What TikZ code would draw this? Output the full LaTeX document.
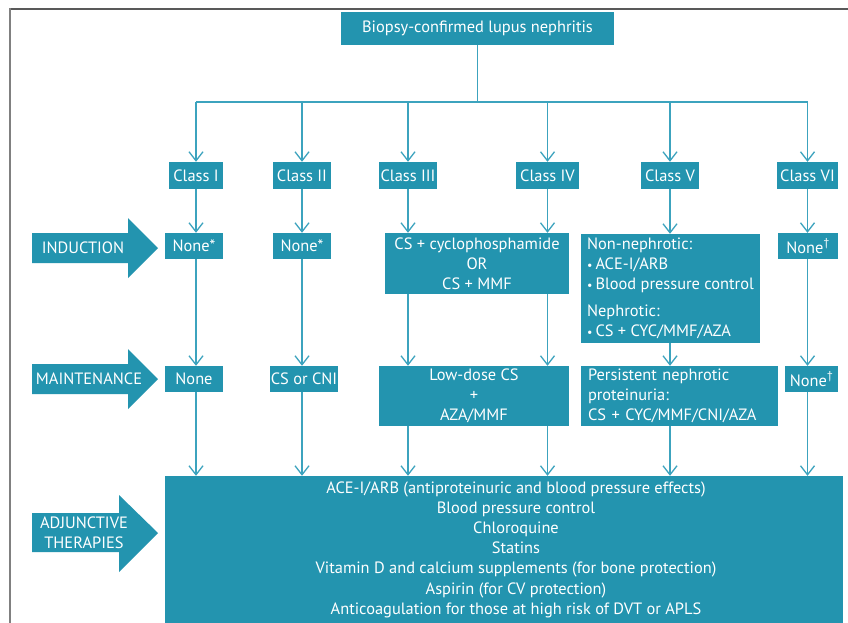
\documentclass[tikz,border=0pt]{standalone}
\usepackage{fontspec}
\setmainfont{PT Sans}
\usetikzlibrary{arrows.meta}
\definecolor{boxfill}{RGB}{35,148,175}
\definecolor{linec}{RGB}{60,163,190}
\newcommand{\mybul}{{\fontsize{12}{12}\selectfont •}\hspace{3pt}}
\begin{document}
\begin{tikzpicture}[x=1pt,y=-1pt,
  box/.style={fill=boxfill, text=white, inner sep=0pt, font=\fontsize{16.4}{20}\selectfont},
  ln/.style={draw=linec, line width=1.3pt},
  arr/.style={draw=linec, line width=1.3pt, -{Straight Barb[length=9pt,width=14pt]}},
  sidearrow/.style={fill=boxfill, draw=none},
  sidetext/.style={text=white, font=\fontsize{16.4}{20}\selectfont, inner sep=0pt, align=center}
]
\useasboundingbox (0,0) rectangle (848,622);
\fill[white] (0,0) rectangle (848,622);
% frame
\draw[draw=gray!70!black, line width=2pt] (10,9) -- (849,9);
\draw[draw=gray, line width=2pt] (10,8) -- (10,623);

% top
\node[box, minimum width=273pt, minimum height=33pt] (top) at (477.5,28.5) {Biopsy-confirmed lupus nephritis};

% classes
\node[box, minimum width=54pt, minimum height=27pt] (c1) at (196,175.5) {Class I};
\node[box, minimum width=58pt, minimum height=27pt] (c2) at (302,175.5) {Class II};
\node[box, minimum width=58pt, minimum height=27pt] (c3) at (408,175.5) {Class III};
\node[box, minimum width=63pt, minimum height=27pt] (c4) at (547.5,175.5) {Class IV};
\node[box, minimum width=58pt, minimum height=27pt] (c5) at (670,175.5) {Class V};
\node[box, minimum width=61pt, minimum height=27pt] (c6) at (807.5,175.5) {Class VI};

% induction
\node[box, minimum width=58pt, minimum height=26pt] (i1) at (194,246) {None*};
\node[box, minimum width=58pt, minimum height=26pt] (i2) at (302,246) {None*};
\node[box, minimum width=184pt, minimum height=61pt, align=center] (i34) at (477,263.5) {CS + cyclophosphamide\\OR\\CS + MMF};
\node[box, minimum width=179pt, minimum height=109pt, align=left] (i5) at (670.5,288.5) {Non-nephrotic:\\\mybul ACE-I/ARB\\\mybul Blood pressure control\\[7pt]Nephrotic:\\\mybul CS + CYC/MMF/AZA};
\node[box, minimum width=60pt, minimum height=26pt] (i6) at (808,246) {None\textsuperscript{†}};

% maintenance
\node[box, minimum width=58pt, minimum height=26pt] (m1) at (194,379) {None};
\node[box, minimum width=68pt, minimum height=26pt] (m2) at (304,379) {CS or CNI};
\node[box, minimum width=190pt, minimum height=60pt, align=center] (m34) at (474,396) {Low-dose CS\\+\\AZA/MMF};
\node[box, minimum width=197pt, minimum height=60pt, text width=183pt, inner xsep=7pt, align=left] (m5) at (679.5,396) {Persistent nephrotic\\proteinuria:\\CS + CYC/MMF/CNI/AZA};
\node[box, minimum width=53pt, minimum height=26pt] (m6) at (811.5,379) {None\textsuperscript{†}};

% adjunctive
\node[box, minimum width=678pt, minimum height=154pt] (adj) at (504,553) {};
\node[box, fill=none, align=center, font=\fontsize{16.4}{20.2}\selectfont] (adjtext) at (516,549.5) {ACE-I/ARB (antiproteinuric and blood pressure effects)\\Blood pressure control\\Chloroquine\\Statins\\Vitamin D and calcium supplements (for bone protection)\\Aspirin (for CV protection)\\Anticoagulation for those at high risk of DVT or APLS};

% side arrows
\fill[sidearrow] (32,233) -- (128,233) -- (128,218) -- (158,248) -- (128,278) -- (128,263) -- (32,263) -- cycle;
\node[sidetext] (lind) at (83,248) {INDUCTION};
\fill[sidearrow] (32,364) -- (128,364) -- (128,349) -- (158,379) -- (128,409) -- (128,394) -- (32,394) -- cycle;
\node[sidetext] (lmain) at (89,379) {MAINTENANCE};
\fill[sidearrow] (32,513) -- (119,513) -- (119,495) -- (158,533) -- (119,572) -- (119,552) -- (32,552) -- cycle;
\node[sidetext] (ladj) at (84,533) {ADJUNCTIVE\\THERAPIES};

% connectors
\coordinate (hub) at (477.5,102);
\draw[ln] (top.south) -- (hub);
\draw[ln] (c1.north |- hub) -- (c6.north |- hub);
\foreach \c in {c1,c2,c3,c4,c5,c6} \draw[arr] (\c.north |- hub) -- (\c.north);

\draw[arr] (c1.south) -- (c1.south |- i1.north);
\draw[arr] (c2.south) -- (c2.south |- i2.north);
\draw[arr] (c3.south) -- (c3.south |- i34.north);
\draw[arr] (c4.south) -- (c4.south |- i34.north);
\draw[arr] (c5.south) -- (c5.south |- i5.north);
\draw[arr] (c6.south) -- (c6.south |- i6.north);

\draw[arr] (c1.south |- i1.south) -- (c1.south |- m1.north);
\draw[arr] (c2.south |- i2.south) -- (c2.south |- m2.north);
\draw[arr] (c3.south |- i34.south) -- (c3.south |- m34.north);
\draw[arr] (c4.south |- i34.south) -- (c4.south |- m34.north);
\draw[arr] (c5.south |- i5.south) -- (c5.south |- m5.north);
\draw[arr] (c6.south |- i6.south) -- (c6.south |- m6.north);

\draw[arr] (c1.south |- m1.south) -- (c1.south |- adj.north);
\draw[arr] (c2.south |- m2.south) -- (c2.south |- adj.north);
\draw[arr] (c3.south |- m34.south) -- (c3.south |- adj.north);
\draw[arr] (c4.south |- m34.south) -- (c4.south |- adj.north);
\draw[arr] (c5.south |- m5.south) -- (c5.south |- adj.north);
\draw[arr] (c6.south |- m6.south) -- (c6.south |- adj.north);
\end{tikzpicture}
\end{document}
